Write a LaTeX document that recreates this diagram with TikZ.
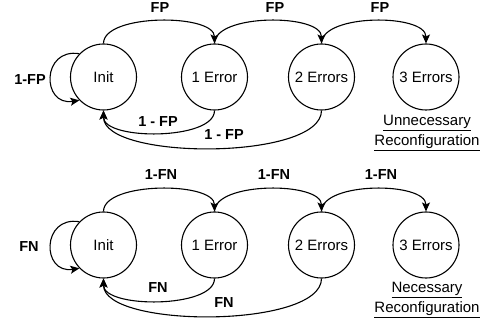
\documentclass[tikz,border=0pt]{standalone}
\usepackage{fontspec}
\setmainfont{Liberation Sans}
\usetikzlibrary{arrows.meta}
\begin{document}
\begin{tikzpicture}[x=1pt,y=-1pt,
  state/.style={draw,circle,line width=1.1pt,minimum size=66pt,inner sep=0pt,font=\fontsize{15}{18}\selectfont},
  edge/.style={line width=1.1pt,-{Stealth[length=9pt,width=8pt,inset=2pt]}},
  lbl/.style={font=\fontsize{14.5}{17}\selectfont\bfseries,inner sep=1pt},
  note/.style={font=\fontsize{15}{18}\selectfont,inner sep=0pt}]
\useasboundingbox (0,0) rectangle (488,326);

% ---- false positives chain ----
\node[state] (i1) at (103.5,77) {Init};
\node[state] (a1) at (214.5,77) {1 Error};
\node[state] (b1) at (321.5,77) {2 Errors};
\node[state] (c1) at (426,77) {3 Errors};

\draw[edge] (i1.north) .. controls +(0,-30) and +(0,-30) .. (a1.north);
\draw[edge] (a1.north) .. controls +(0,-30) and +(0,-30) .. (b1.north);
\draw[edge] (b1.north) .. controls +(0,-30) and +(0,-30) .. (c1.north);
\draw[edge] (i1.136) .. controls +(-38,-6) and +(-38,6) .. (i1.224);
\draw[edge] (a1.south) .. controls +(0,30) and +(0,30) .. (i1.south);
\draw[edge] (b1.south) .. controls +(0,50) and +(0,50) .. (i1.south);

\node[lbl] (l1) at (160,8) {FP};
\node[lbl] (l2) at (275,8) {FP};
\node[lbl] (l3) at (380,8) {FP};
\node[lbl] (l4) at (30,80) {1-FP};
\node[lbl] (l5) at (158,122) {1 - FP};
\node[lbl] (l6) at (224,135) {1 - FP};
\node[note] (n1) at (427,123) {\underline{Unnecessary}};
\node[note] (n2) at (427,143) {\underline{Reconfiguration}};

% ---- false negatives chain ----
\node[state] (i2) at (103.5,245) {Init};
\node[state] (a2) at (214.5,245) {1 Error};
\node[state] (b2) at (321.5,245) {2 Errors};
\node[state] (c2) at (426,245) {3 Errors};

\draw[edge] (i2.north) .. controls +(0,-30) and +(0,-30) .. (a2.north);
\draw[edge] (a2.north) .. controls +(0,-30) and +(0,-30) .. (b2.north);
\draw[edge] (b2.north) .. controls +(0,-30) and +(0,-30) .. (c2.north);
\draw[edge] (i2.136) .. controls +(-38,-6) and +(-38,6) .. (i2.224);
\draw[edge] (a2.south) .. controls +(0,30) and +(0,30) .. (i2.south);
\draw[edge] (b2.south) .. controls +(0,50) and +(0,50) .. (i2.south);

\node[lbl] (m1) at (161,175) {1-FN};
\node[lbl] (m2) at (274,175) {1-FN};
\node[lbl] (m3) at (381,175) {1-FN};
\node[lbl] (m4) at (29,247) {FN};
\node[lbl] (m5) at (158,288) {FN};
\node[lbl] (m6) at (224,303) {FN};
\node[note] (n3) at (427,290) {\underline{Necessary}};
\node[note] (n4) at (427,310) {\underline{Reconfiguration}};
\end{tikzpicture}
\end{document}
